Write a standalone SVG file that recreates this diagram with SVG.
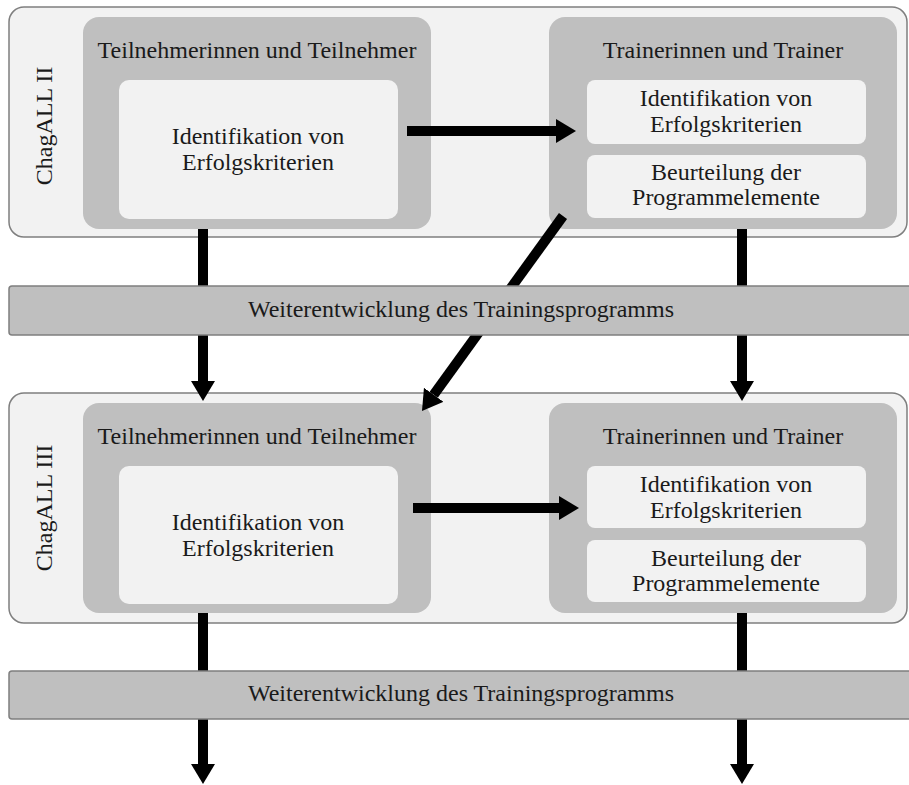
<svg xmlns="http://www.w3.org/2000/svg" width="909" height="785" viewBox="0 0 909 785">
<defs>
<style>
.outer{fill:#f2f2f2;stroke:#7f7f7f;stroke-width:1.5}
.panel{fill:#bfbfbf}
.inner{fill:#f2f2f2}
.band{fill:#bfbfbf;stroke:#7f7f7f;stroke-width:1.5}
text{font-family:"Liberation Serif","DejaVu Serif",serif;font-size:24px;fill:#1a1a1a;text-anchor:middle}
.conn{stroke:#000;stroke-width:10;fill:none;marker-end:url(#ah)}
</style>
<marker id="ah" markerUnits="userSpaceOnUse" viewBox="0 0 20 24" markerWidth="20" markerHeight="24" refX="0" refY="12" orient="auto">
<path d="M0,0 L20,12 L0,24 z" fill="#000"/>
</marker>
</defs>
<g id="phase2">
<rect class="outer" x="9" y="7" width="898" height="230" rx="15"/>
<text transform="translate(52,126) rotate(-90)">ChagALL II</text>
</g>
<g id="phase3">
<rect class="outer" x="9" y="393" width="898" height="230" rx="15"/>
<text transform="translate(52,508) rotate(-90)">ChagALL III</text>
</g>
<g id="tn2">
<rect class="panel" x="83" y="17" width="348" height="212" rx="16"/>
<text x="257" y="58">Teilnehmerinnen und Teilnehmer</text>
<rect class="inner" x="119" y="80" width="279" height="139" rx="10"/>
<text x="258" y="144">Identifikation von</text>
<text x="258" y="170">Erfolgskriterien</text>
</g>
<g id="tr2">
<rect class="panel" x="549" y="17" width="348" height="212" rx="16"/>
<text x="723" y="58">Trainerinnen und Trainer</text>
<rect class="inner" x="587" y="80" width="279" height="64" rx="8"/>
<text x="726" y="106">Identifikation von</text>
<text x="726" y="132">Erfolgskriterien</text>
<rect class="inner" x="587" y="155" width="279" height="63" rx="8"/>
<text x="726" y="180">Beurteilung der</text>
<text x="726" y="205">Programmelemente</text>
</g>
<g id="tn3">
<rect class="panel" x="83" y="403" width="348" height="210" rx="16"/>
<text x="257" y="444">Teilnehmerinnen und Teilnehmer</text>
<rect class="inner" x="119" y="466" width="279" height="138" rx="10"/>
<text x="258" y="530">Identifikation von</text>
<text x="258" y="556">Erfolgskriterien</text>
</g>
<g id="tr3">
<rect class="panel" x="549" y="403" width="348" height="210" rx="16"/>
<text x="723" y="444">Trainerinnen und Trainer</text>
<rect class="inner" x="587" y="466" width="279" height="62" rx="8"/>
<text x="726" y="492">Identifikation von</text>
<text x="726" y="518">Erfolgskriterien</text>
<rect class="inner" x="587" y="540" width="279" height="62" rx="8"/>
<text x="726" y="566">Beurteilung der</text>
<text x="726" y="591">Programmelemente</text>
</g>
<g id="connectors">
<line class="conn" x1="407" y1="131" x2="556" y2="131"/>
<line class="conn" x1="413" y1="508" x2="559" y2="508"/>
<line class="conn" x1="203" y1="229" x2="203" y2="381"/>
<line class="conn" x1="742" y1="229" x2="742" y2="381"/>
<line class="conn" x1="563" y1="216" x2="433.7" y2="394.8"/>
<line class="conn" x1="203" y1="613" x2="203" y2="764"/>
<line class="conn" x1="742" y1="613" x2="742" y2="764"/>
</g>
<g id="dev1">
<rect class="band" x="9" y="286" width="910" height="49" rx="3"/>
<text x="461" y="317">Weiterentwicklung des Trainingsprogramms</text>
</g>
<g id="dev2">
<rect class="band" x="9" y="671" width="910" height="48" rx="3"/>
<text x="461" y="701">Weiterentwicklung des Trainingsprogramms</text>
</g>
</svg>
